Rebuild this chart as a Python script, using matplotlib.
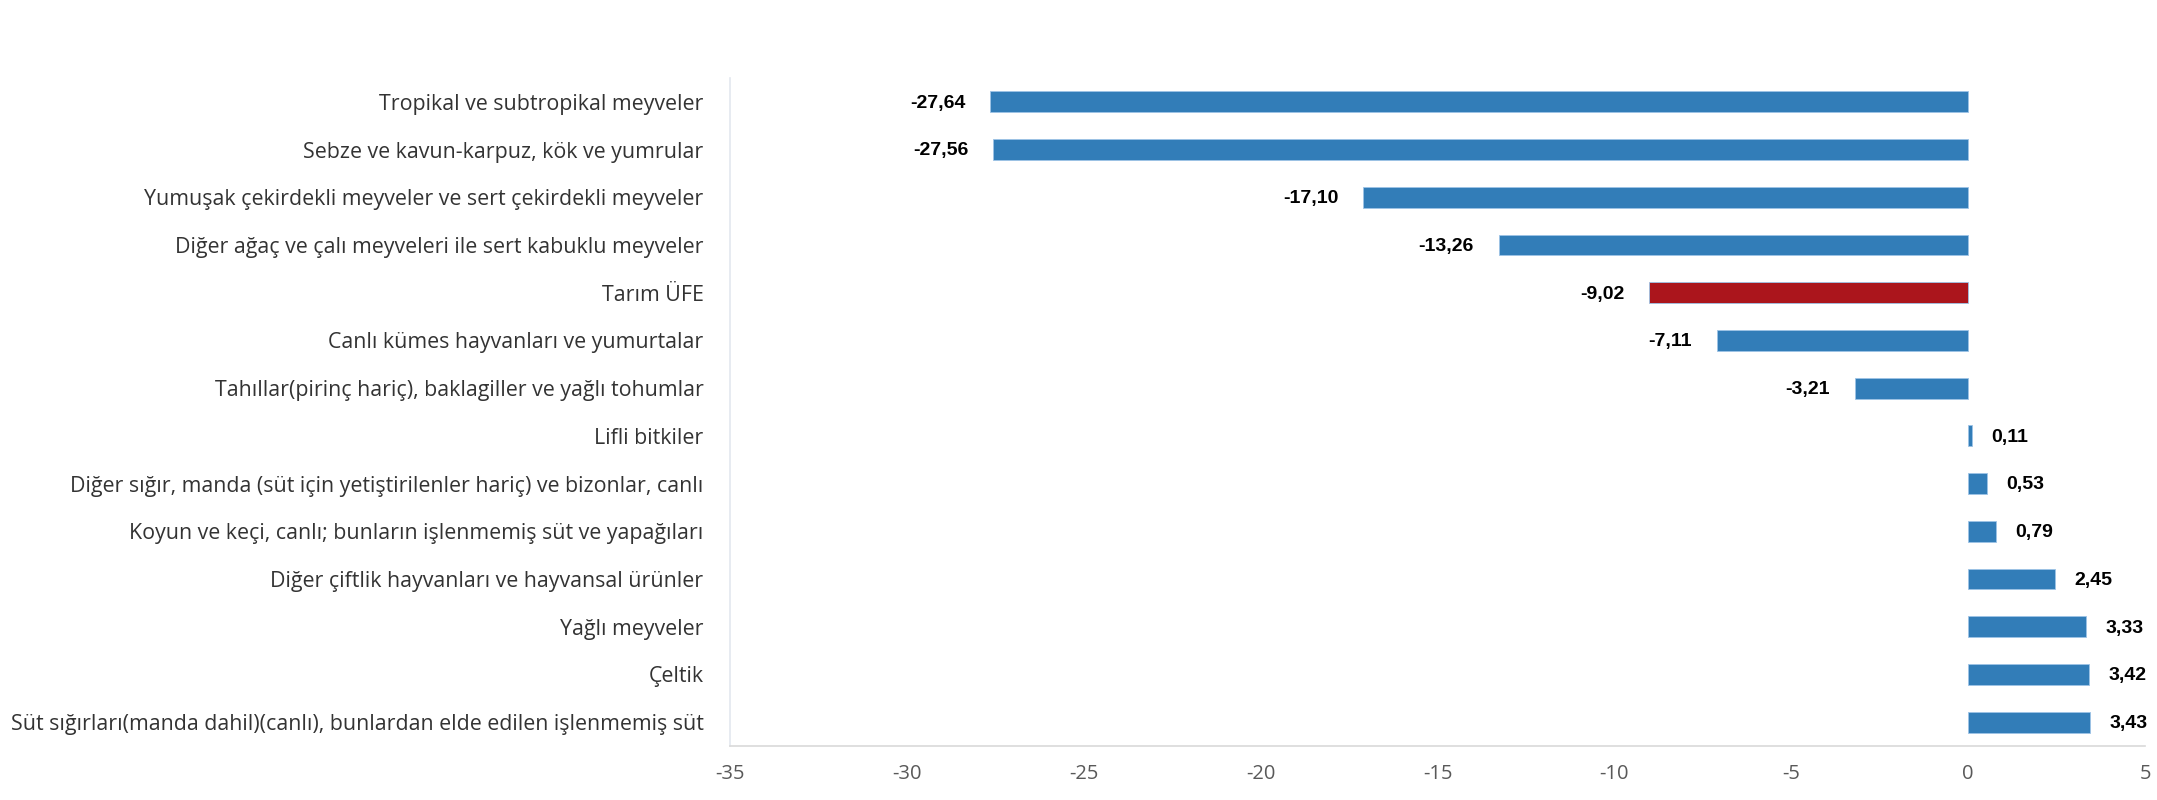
import matplotlib.pyplot as plt
import numpy as np

# kategoriler (yukaridan asagiya)
categories = [
    'Tropikal ve subtropikal meyveler',
    'Sebze ve kavun-karpuz, kök ve yumrular',
    'Yumuşak çekirdekli meyveler ve sert çekirdekli meyveler',
    'Diğer ağaç ve çalı meyveleri ile sert kabuklu meyveler',
    'Tarım ÜFE',
    'Canlı kümes hayvanları ve yumurtalar',
    'Tahıllar(pirinç hariç), baklagiller ve yağlı tohumlar',
    'Lifli bitkiler',
    'Diğer sığır, manda (süt için yetiştirilenler hariç) ve bizonlar, canlı',
    'Koyun ve keçi, canlı; bunların işlenmemiş süt ve yapağıları',
    'Diğer çiftlik hayvanları ve hayvansal ürünler',
    'Yağlı meyveler',
    'Çeltik',
    'Süt sığırları(manda dahil)(canlı), bunlardan elde edilen işlenmemiş süt',
]
values = [-27.64, -27.56, -17.10, -13.26, -9.02, -7.11, -3.21,
          0.11, 0.53, 0.79, 2.45, 3.33, 3.42, 3.43]
highlight = 'Tarım ÜFE'

blue = '#327DB8'
red = '#AB151C'
colors = [red if c == highlight else blue for c in categories]

fig = plt.figure(figsize=(21.57, 8), dpi=100)
ax = fig.add_axes([0.3384, 0.0675, 0.6561, 0.835])

y = np.arange(len(categories))
ax.barh(y, values, height=0.44, color=colors, edgecolor='#9DC3E6', linewidth=0.6)
ax.set_ylim(len(categories) - 0.5, -0.5)
ax.set_xlim(-35, 5)
ax.set_xticks(np.arange(-35, 6, 5))
ax.set_xticklabels([str(t) for t in range(-35, 6, 5)])
ax.set_yticks(y)
ax.set_yticklabels(categories)

for lab in ax.get_yticklabels():
    lab.set_fontfamily('Open Sans')
    lab.set_fontsize(15.4)
    lab.set_color('#333333')
for lab in ax.get_xticklabels():
    lab.set_fontfamily('Open Sans')
    lab.set_fontsize(14.5)
    lab.set_color('#595959')

ax.tick_params(axis='both', length=0)
ax.tick_params(axis='y', pad=19)
ax.tick_params(axis='x', pad=13)

for s in ['top', 'right']:
    ax.spines[s].set_visible(False)
ax.spines['left'].set_color('#E3E8EF')
ax.spines['bottom'].set_color('#D9D9D9')
ax.spines['left'].set_linewidth(1.2)
ax.spines['bottom'].set_linewidth(1.2)

for yi, v in zip(y, values):
    txt = f'{v:.2f}'.replace('.', ',')
    if v < 0:
        ax.annotate(txt, (v, yi), xytext=(-18, -1), textcoords='offset points',
                    ha='right', va='center', fontsize=14, fontweight='bold',
                    family='Liberation Sans', color='black')
    else:
        ax.annotate(txt, (v, yi), xytext=(14, -1), textcoords='offset points',
                    ha='left', va='center', fontsize=14, fontweight='bold',
                    family='Liberation Sans', color='black')

fig.savefig('out.png', dpi=100)
